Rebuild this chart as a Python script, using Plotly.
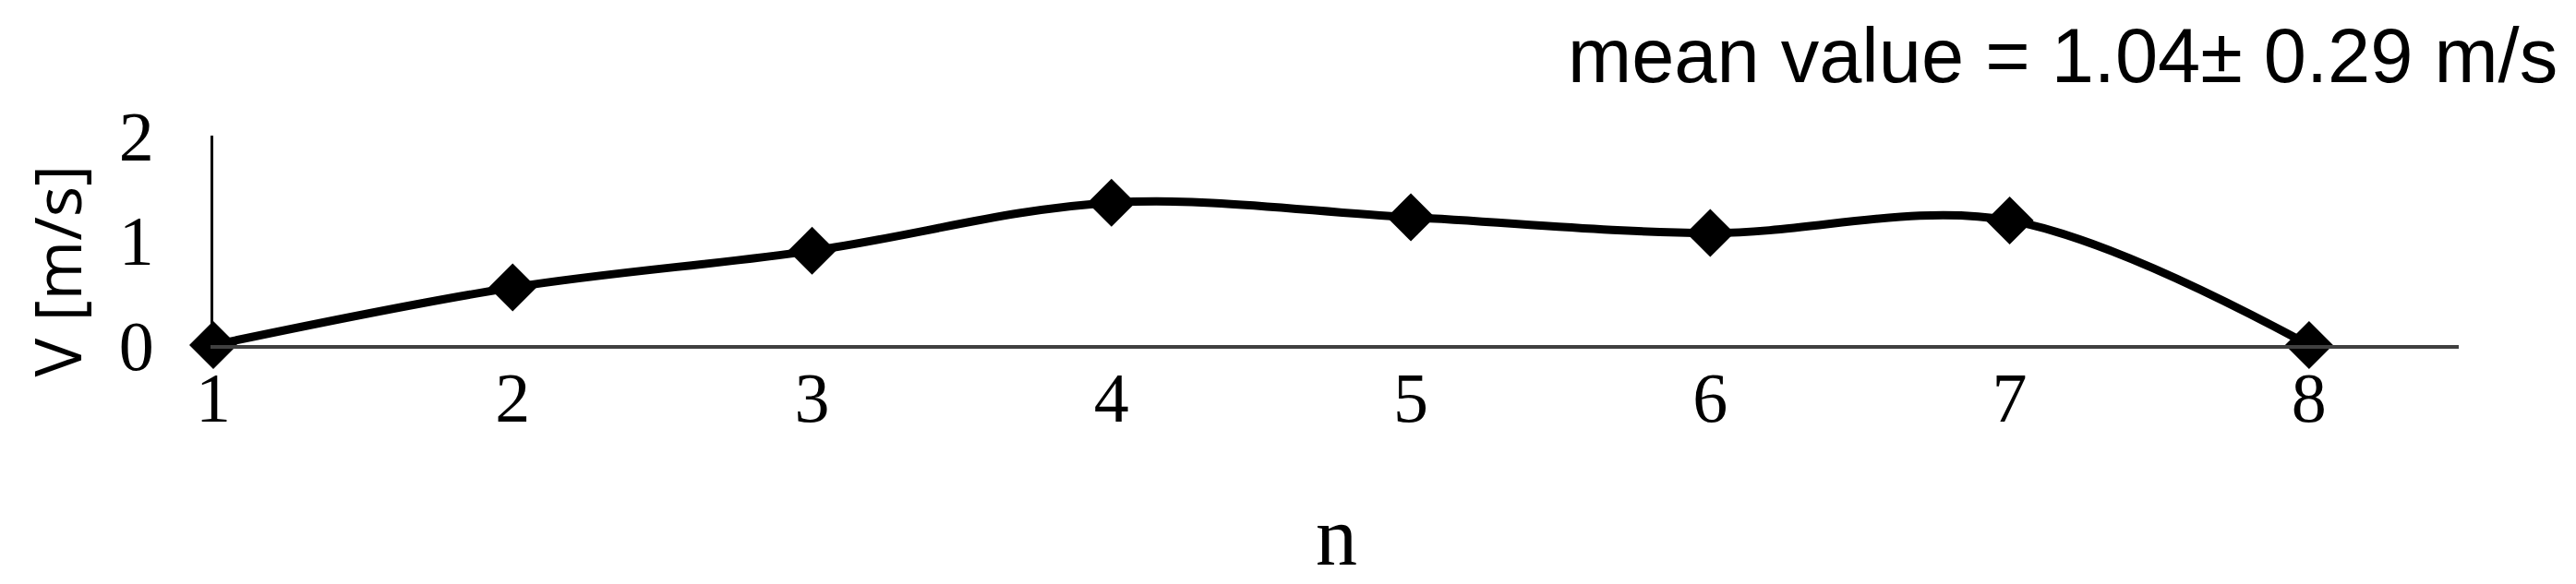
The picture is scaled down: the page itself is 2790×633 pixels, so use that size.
import plotly.graph_objects as go

n_values = [1, 2, 3, 4, 5, 6, 7, 8]
v_values = [0.0, 0.55, 0.90, 1.36, 1.22, 1.07, 1.19, 0.0]
x_ticks = [1, 2, 3, 4, 5, 6, 7, 8]
y_ticks = [0, 1, 2]
y_title = "V [m/s]"
x_title = "n"
note_text = "mean value = 1.04± 0.29 m/s"

# page body has an 8px default margin; compensate
W, H = 2782, 625
L, R, T, B = 223, 127, 139, 259

fig = go.Figure()
fig.add_trace(go.Scatter(
    x=n_values, y=v_values, mode="lines+markers",
    line=dict(color="black", width=9, shape="spline", smoothing=1),
    marker=dict(symbol="diamond", size=40, color="black"),
    cliponaxis=False, showlegend=False,
))

fig.update_layout(
    width=W, height=H,
    margin=dict(l=L, r=R, t=T, b=B, autoexpand=False),
    paper_bgcolor="white", plot_bgcolor="white",
    xaxis=dict(
        range=[1, 8.5], tickvals=x_ticks, ticktext=[str(t) for t in x_ticks],
        showgrid=False, zeroline=False, showline=True, linecolor="#404040", linewidth=4,
        ticks="", ticklabelstandoff=-12,
        tickfont=dict(family="Liberation Serif", size=76, color="black"),
    ),
    yaxis=dict(
        range=[0, 2], tickvals=y_ticks, ticktext=[str(t) for t in y_ticks],
        showgrid=False, zeroline=False, showline=True, linecolor="black", linewidth=3,
        ticks="", ticklabelstandoff=46,
        tickfont=dict(family="Liberation Serif", size=76, color="black"),
    ),
    annotations=[
        dict(text=y_title, xref="paper", yref="y", x=0, y=0.71, xanchor="center", yanchor="middle",
             xshift=-170, textangle=-90, showarrow=False,
             font=dict(family="Open Sans", size=70, color="black")),
        dict(text=x_title, xref="paper", yref="paper", x=0.5, y=0, xanchor="center", yanchor="middle",
             yshift=-207, showarrow=False,
             font=dict(family="Liberation Serif", size=90, color="black")),
        dict(text=note_text, xref="paper", yref="paper", x=1, y=1, xanchor="right", yanchor="middle",
             xshift=109, yshift=87, showarrow=False,
             font=dict(family="Liberation Sans", size=83, color="black")),
    ],
)

fig.write_html("out.html")
